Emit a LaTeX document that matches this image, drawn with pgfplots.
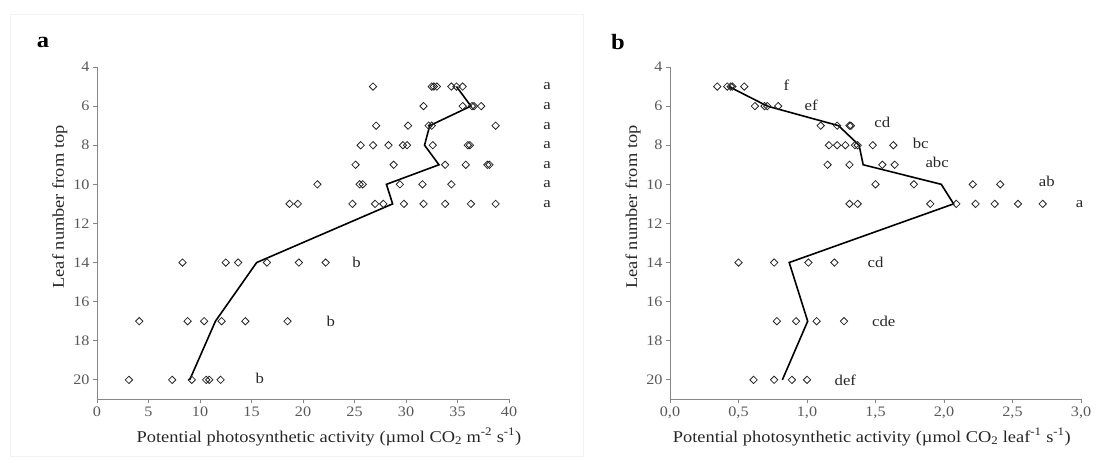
\documentclass[border=0pt]{standalone}
\usepackage{fontspec}
\setmainfont{Liberation Serif}[FakeStretch=1.12]
\usepackage{pgfplots}
\pgfplotsset{compat=1.18}
\definecolor{axgray}{HTML}{868686}
\definecolor{tickgray}{HTML}{595959}
\definecolor{txt}{HTML}{262626}
\tikzset{lett/.style={font=\fontsize{15}{17}\selectfont, text=txt, anchor=center}}
\pgfplotsset{
  panel/.style={
    scale only axis, width=412bp, height=332.4bp,
    ymin=4, ymax=21, y dir=reverse, ytick={4,6,...,20},
    axis lines*=left, axis line style={axgray, line width=0.9bp, -},
    tick style={axgray, line width=0.9bp}, tick align=outside, major tick length=4bp,
    tick label style={font=\fontsize{14.5}{16}\selectfont, text=tickgray},
    /pgf/number format/assume math mode=true,
    clip=false,
    label style={font=\fontsize{16.5}{19}\selectfont, text=txt},
    ylabel={Leaf number from top},
  },
  pts/.style={only marks, mark=square, mark size=2.6bp, mark options={rotate=45, black!85, line width=0.8bp}},
  avg/.style={black, line width=1.6bp, mark=none},
}
\begin{document}
\begin{tikzpicture}[x=1bp,y=1bp]
\useasboundingbox (0,0) rectangle (1098,-463);
\draw[black!5, line width=0.8bp] (10,-14) rectangle (583,-456);
\draw[black!5, line width=0.8bp] (583,-14) -- (583,-456);
\node[font=\bfseries\fontsize{22}{24}\selectfont] at (43,-42) {a};
\node[font=\bfseries\fontsize{22}{24}\selectfont] at (618,-42) {b};

\begin{axis}[panel, at={(97bp,-399.4bp)}, anchor=south west,
  xmin=0, xmax=40, xtick={0,5,...,40},
  xlabel={Potential photosynthetic activity (µmol CO\textsubscript{2} m\textsuperscript{-2} s\textsuperscript{-1})},
  xlabel style={at={(axis description cs:0.563,-0.113)}, anchor=center},
  ylabel style={at={(axis description cs:-0.090,0.579)}, anchor=center},
]
\addplot[pts] coordinates {
(26.8,5) (32.5,5) (32.7,5) (33.0,5) (34.4,5) (34.9,5) (35.5,5)
(31.7,6) (35.5,6) (36.4,6) (36.6,6) (37.3,6)
(27.1,7) (30.2,7) (32.2,7) (32.5,7) (38.7,7)
(25.6,8) (26.8,8) (28.3,8) (29.7,8) (30.1,8) (32.6,8) (36.0,8) (36.2,8)
(25.1,9) (28.8,9) (33.8,9) (35.8,9) (37.9,9) (38.1,9)
(21.4,10) (25.5,10) (25.8,10) (29.4,10) (31.6,10) (34.4,10)
(18.7,11) (19.5,11) (24.8,11) (27.0,11) (27.8,11) (29.8,11) (31.7,11) (33.8,11) (36.3,11) (38.7,11)
(8.3,14) (12.5,14) (13.7,14) (16.5,14) (19.6,14) (22.2,14)
(4.1,17) (8.8,17) (10.4,17) (12.1,17) (14.4,17) (18.5,17)
(3.1,20) (7.3,20) (9.2,20) (10.6,20) (10.9,20) (12.0,20)
};
\addplot[avg] coordinates {
(34.9,5) (36.3,6) (32.3,7) (31.8,8) (33.2,9) (28.1,10) (28.7,11) (15.5,14) (11.5,17) (9.0,20)
};
\node[lett] at (axis cs:43.7,5) {a};
\node[lett] at (axis cs:43.7,6) {a};
\node[lett] at (axis cs:43.7,7) {a};
\node[lett] at (axis cs:43.7,8) {a};
\node[lett] at (axis cs:43.7,9) {a};
\node[lett] at (axis cs:43.7,10) {a};
\node[lett] at (axis cs:43.7,11) {a};
\node[lett] at (axis cs:25.2,14) {b};
\node[lett] at (axis cs:22.7,17) {b};
\node[lett] at (axis cs:15.8,19.9) {b};
\end{axis}

\begin{axis}[panel, at={(670bp,-399.4bp)}, anchor=south west, width=411bp,
  xmin=0, xmax=3, xtick={0,0.5,...,3},
  xticklabels={{0,0},{0,5},{1,0},{1,5},{2,0},{2,5},{3,0}},
  xlabel={Potential photosynthetic activity (µmol CO\textsubscript{2} leaf\textsuperscript{-1} s\textsuperscript{-1})},
  xlabel style={at={(axis description cs:0.491,-0.113)}, anchor=center},
  ylabel style={at={(axis description cs:-0.090,0.579)}, anchor=center},
]
\addplot[pts] coordinates {
(0.345,5) (0.418,5) (0.443,5) (0.455,5) (0.542,5)
(0.62,6) (0.69,6) (0.71,6) (0.79,6)
(1.10,7) (1.22,7) (1.31,7) (1.32,7)
(1.16,8) (1.22,8) (1.28,8) (1.35,8) (1.37,8) (1.48,8) (1.63,8)
(1.15,9) (1.31,9) (1.55,9) (1.64,9)
(1.50,10) (1.78,10) (2.21,10) (2.41,10)
(1.31,11) (1.37,11) (1.90,11) (2.09,11) (2.23,11) (2.37,11) (2.54,11) (2.72,11)
(0.50,14) (0.76,14) (1.01,14) (1.20,14)
(0.78,17) (0.92,17) (1.07,17) (1.27,17)
(0.61,20) (0.76,20) (0.89,20) (1.00,20)
};
\addplot[avg] coordinates {
(0.43,5) (0.71,6) (1.23,7) (1.38,8) (1.41,9) (1.98,10) (2.07,11) (0.87,14) (1.005,17) (0.82,20)
};
\node[lett] at (axis cs:0.85,4.95) {f};
\node[lett] at (axis cs:1.03,5.95) {ef};
\node[lett] at (axis cs:1.55,6.85) {cd};
\node[lett] at (axis cs:1.83,7.9) {bc};
\node[lett] at (axis cs:1.95,8.9) {abc};
\node[lett] at (axis cs:2.75,9.85) {ab};
\node[lett] at (axis cs:2.99,11) {a};
\node[lett] at (axis cs:1.50,14) {cd};
\node[lett] at (axis cs:1.56,17) {cde};
\node[lett] at (axis cs:1.28,20) {def};
\end{axis}
\end{tikzpicture}
\end{document}
